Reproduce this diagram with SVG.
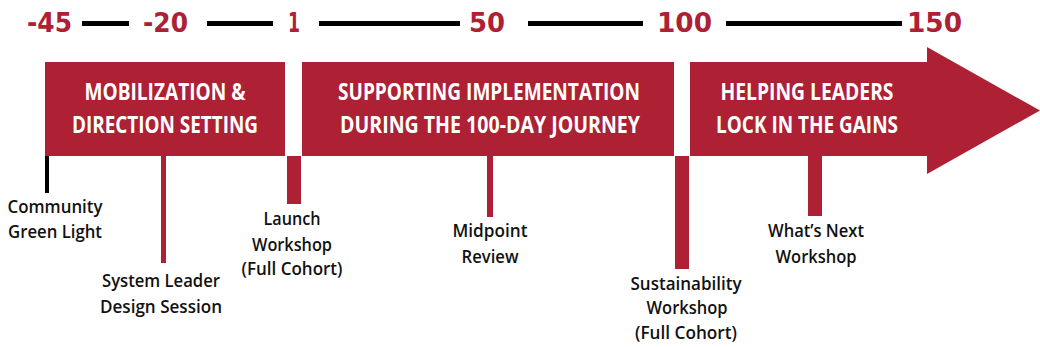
<svg xmlns="http://www.w3.org/2000/svg" width="1040" height="347" viewBox="0 0 1040 347">
<style>
.num{font-family:"DejaVu Sans","Liberation Sans",sans-serif;font-weight:900;font-size:27px;fill:#AE2033}
.axis{stroke:#000;stroke-width:5}
.band{fill:#AE2033}
.head{font-family:"Open Sans","DejaVu Sans Condensed","Liberation Sans",sans-serif;font-weight:700;font-size:24px;fill:#fff;text-anchor:middle}
.lbl{font-family:"Open Sans","Liberation Sans",sans-serif;font-weight:600;font-size:18px;fill:#111;text-anchor:middle}
.tick{fill:#AE2033}
</style>
<rect width="1040" height="347" fill="#fff"/>
<g id="axis">
<text class="num" x="27" y="31.5" textLength="45" lengthAdjust="spacingAndGlyphs">-45</text>
<line class="axis" x1="82" y1="23.5" x2="129" y2="23.5"/>
<text class="num" x="143" y="31.5" textLength="45" lengthAdjust="spacingAndGlyphs">-20</text>
<line class="axis" x1="207" y1="23.5" x2="273" y2="23.5"/>
<text class="num" x="288" y="31.5" textLength="12" lengthAdjust="spacingAndGlyphs">1</text>
<line class="axis" x1="319" y1="23.5" x2="460" y2="23.5"/>
<text class="num" x="469" y="31.5" textLength="36" lengthAdjust="spacingAndGlyphs">50</text>
<line class="axis" x1="528" y1="23.5" x2="643" y2="23.5"/>
<text class="num" x="657" y="31.5" textLength="55" lengthAdjust="spacingAndGlyphs">100</text>
<line class="axis" x1="726" y1="23.5" x2="902" y2="23.5"/>
<text class="num" x="907" y="31.5" textLength="55" lengthAdjust="spacingAndGlyphs">150</text>
</g>
<g id="phase1">
<rect class="band" x="45" y="62" width="240" height="94"/>
<text class="head" x="165" y="100" textLength="161" lengthAdjust="spacingAndGlyphs">MOBILIZATION &amp;</text>
<text class="head" x="165" y="133" textLength="186" lengthAdjust="spacingAndGlyphs">DIRECTION SETTING</text>
</g>
<g id="phase2">
<rect class="band" x="302" y="62" width="372" height="94"/>
<text class="head" x="489" y="100" textLength="302" lengthAdjust="spacingAndGlyphs">SUPPORTING IMPLEMENTATION</text>
<text class="head" x="490" y="133" textLength="300" lengthAdjust="spacingAndGlyphs">DURING THE 100-DAY JOURNEY</text>
</g>
<g id="phase3">
<polygon class="band" points="690,62 927,62 927,47 1040,110.5 927,174 927,156 690,156"/>
<text class="head" x="807" y="100" textLength="173" lengthAdjust="spacingAndGlyphs">HELPING LEADERS</text>
<text class="head" x="807" y="133" textLength="182" lengthAdjust="spacingAndGlyphs">LOCK IN THE GAINS</text>
</g>
<g id="connectors">
<rect x="45" y="156" width="4" height="37" fill="#000"/>
<rect class="tick" x="161" y="156" width="5" height="107"/>
<rect class="tick" x="287" y="156" width="14" height="48"/>
<rect class="tick" x="487" y="156" width="6" height="61"/>
<rect class="tick" x="675" y="156" width="14" height="113"/>
<rect class="tick" x="808" y="156" width="14" height="60"/>
</g>
<g id="community-green-light">
<text class="lbl" x="55" y="213" textLength="95" lengthAdjust="spacingAndGlyphs">Community</text>
<text class="lbl" x="55" y="238" textLength="94" lengthAdjust="spacingAndGlyphs">Green Light</text>
</g>
<g id="system-leader-design-session">
<text class="lbl" x="161" y="287" textLength="118" lengthAdjust="spacingAndGlyphs">System Leader</text>
<text class="lbl" x="161" y="313" textLength="122" lengthAdjust="spacingAndGlyphs">Design Session</text>
</g>
<g id="launch-workshop">
<text class="lbl" x="292" y="225" textLength="57" lengthAdjust="spacingAndGlyphs">Launch</text>
<text class="lbl" x="292" y="251" textLength="80" lengthAdjust="spacingAndGlyphs">Workshop</text>
<text class="lbl" x="292" y="275" textLength="101" lengthAdjust="spacingAndGlyphs">(Full Cohort)</text>
</g>
<g id="midpoint-review">
<text class="lbl" x="490" y="237" textLength="75" lengthAdjust="spacingAndGlyphs">Midpoint</text>
<text class="lbl" x="490" y="263" textLength="57" lengthAdjust="spacingAndGlyphs">Review</text>
</g>
<g id="sustainability-workshop">
<text class="lbl" x="686" y="290" textLength="111" lengthAdjust="spacingAndGlyphs">Sustainability</text>
<text class="lbl" x="687" y="314" textLength="81" lengthAdjust="spacingAndGlyphs">Workshop</text>
<text class="lbl" x="686" y="339" textLength="102" lengthAdjust="spacingAndGlyphs">(Full Cohort)</text>
</g>
<g id="whats-next-workshop">
<text class="lbl" x="816" y="237" textLength="96" lengthAdjust="spacingAndGlyphs">What’s Next</text>
<text class="lbl" x="816" y="263" textLength="81" lengthAdjust="spacingAndGlyphs">Workshop</text>
</g>
</svg>
